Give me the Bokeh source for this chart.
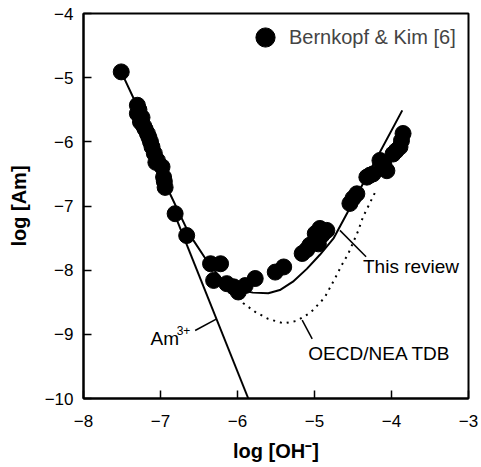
from bokeh.plotting import figure
from bokeh.models import Range1d, FixedTicker, Label, Legend, LegendItem
from bokeh.embed import file_html
from bokeh.resources import INLINE

# ---- data ----
bk_logoh = [-7.51, -7.30, -7.30, -7.28, -7.26, -7.24, -7.22, -7.20, -7.17, -7.15,
            -7.13, -7.11, -7.08, -7.06, -7.04, -6.98, -6.96, -6.95,
            -6.94, -6.81, -6.66,
            -6.35, -6.22, -6.31, -6.14, -6.05, -5.99, -5.90, -5.77, -5.51, -5.40,
            -5.16, -5.10, -5.06, -4.95, -4.99, -4.90, -4.84, -4.93,
            -4.54, -4.50, -4.45, -4.32, -4.28, -4.24, -4.10, -4.06, -4.15, -3.98,
            -3.94, -3.89, -3.87, -3.85]
bk_logam = [-4.91, -5.43, -5.56, -5.50, -5.69, -5.62, -5.75, -5.80, -5.87, -5.93,
            -6.00, -6.08, -6.18, -6.32, -6.29, -6.39, -6.55, -6.62,
            -6.71, -7.12, -7.46,
            -7.90, -7.90, -8.16, -8.21, -8.26, -8.34, -8.24, -8.13, -8.03, -7.95,
            -7.74, -7.68, -7.61, -7.59, -7.43, -7.45, -7.38, -7.35,
            -6.96, -6.88, -6.81, -6.55, -6.52, -6.50, -6.35, -6.45, -6.29, -6.19,
            -6.14, -6.08, -5.98, -5.87]

review_logoh = [-7.51, -7.30, -7.10, -6.90, -6.63, -6.40, -6.20, -6.00, -5.80, -5.60,
                -5.45, -5.28, -5.10, -4.93, -4.75, -4.32, -3.86]
review_logam = [-4.91, -5.45, -6.05, -6.75, -7.43, -7.85, -8.15, -8.30, -8.35, -8.36,
                -8.31, -8.18, -7.98, -7.76, -7.50, -6.54, -5.51]

oecd_logoh = [-6.05, -5.92, -5.77, -5.60, -5.40, -5.23, -5.05, -4.87, -4.73, -4.65,
              -4.56, -4.43, -4.37, -4.30, -4.21]
oecd_logam = [-8.35, -8.52, -8.65, -8.76, -8.83, -8.79, -8.66, -8.43, -8.12, -7.93,
              -7.74, -7.38, -7.17, -7.00, -6.78]

am3_logoh = [-6.85, -5.86]
am3_logam = [-7.03, -10.0]

x_ticks = [-8, -7, -6, -5, -4, -3]
y_ticks = [-10, -9, -8, -7, -6, -5, -4]

# annotation anchors (label text and leader lines)
review_leader_x = [-4.67, -4.33]
review_leader_y = [-7.38, -7.79]
oecd_leader_x = [-5.16, -5.03]
oecd_leader_y = [-8.78, -9.07]
am3_leader_x = [-6.55, -6.27]
am3_leader_y = [-8.94, -8.76]

FONT = "Liberation Sans"

p = figure(width=481, height=467, output_backend="svg", toolbar_location=None,
           x_range=Range1d(-8, -3), y_range=Range1d(-10, -4),
           min_border_left=83, min_border_right=13, min_border_top=13, min_border_bottom=69)
p.xgrid.visible = False
p.ygrid.visible = False
p.outline_line_color = "black"
p.outline_line_width = 2
p.outline_line_alpha = 1
p.background_fill_color = "white"
p.border_fill_color = "white"

for ax, ticks in ((p.xaxis, x_ticks), (p.yaxis, y_ticks)):
    ax.ticker = FixedTicker(ticks=ticks)
    ax.major_label_overrides = {t: "\u2212" + str(abs(t)) for t in ticks}
    ax.major_tick_in = 8
    ax.major_tick_out = 0
    ax.major_tick_line_width = 1.5
    ax.minor_tick_line_color = None
    ax.axis_line_width = 2
    ax.major_label_text_font = FONT
    ax.major_label_text_font_size = "17px"
    ax.major_label_text_color = "black"
    ax.axis_label_text_font = FONT
    ax.axis_label_text_font_size = "20px"
    ax.axis_label_text_font_style = "bold"
    ax.axis_label_text_color = "black"

p.xaxis.axis_label = "log [OH\u207b]"
p.yaxis.axis_label = "log [Am]"
p.xaxis.major_label_standoff = 16
p.yaxis.major_label_standoff = 10
p.xaxis.axis_label_standoff = 10
p.yaxis.axis_label_standoff = 12

p.line(review_logoh, review_logam, line_color="black", line_width=2)
p.line(oecd_logoh, oecd_logam, line_color="black", line_width=2, line_dash="2 5")
p.line(am3_logoh, am3_logam, line_color="black", line_width=2)
pts = p.scatter(bk_logoh, bk_logam, marker="circle", size=16,
                fill_color="black", line_color="black")

for lx, ly in ((review_leader_x, review_leader_y), (oecd_leader_x, oecd_leader_y),
               (am3_leader_x, am3_leader_y)):
    p.line(lx, ly, line_color="black", line_width=1.5)

def lab(x, y, text, size="19px", **kw):
    p.add_layout(Label(x=x, y=y, text=text, text_font=FONT, text_font_size=size,
                       text_color="black", **kw))

lab(-4.37, -7.94, "This review", text_baseline="middle")
lab(-5.08, -9.30, "OECD/NEA TDB", text_baseline="middle")
lab(-7.13, -9.06, "Am", text_baseline="alphabetic")
lab(-6.79, -8.94, "3+", size="12px", text_baseline="alphabetic")

legend = Legend(items=[LegendItem(label="Bernkopf & Kim [6]", renderers=[pts])],
                location=(158, 337), padding=0, margin=0, spacing=0,
                glyph_width=48, glyph_height=48, label_standoff=0,
                label_text_font=FONT, label_text_font_size="20px",
                label_text_baseline="middle",
                border_line_alpha=0, background_fill_alpha=0)
p.add_layout(legend)

open("out.html", "w").write(file_html(p, INLINE))
